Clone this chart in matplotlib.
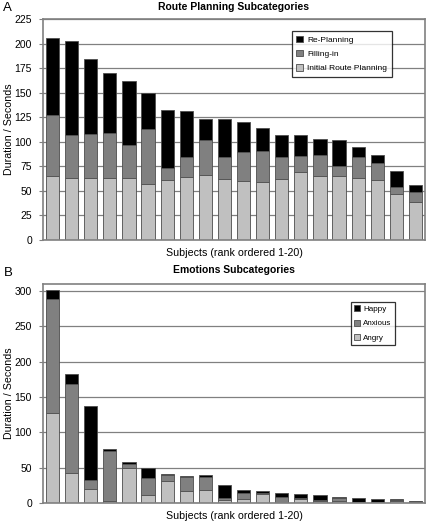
import numpy as np
import matplotlib
matplotlib.use('Agg')
import matplotlib.pyplot as plt

plt.rcParams['font.family'] = ['Liberation Sans', 'DejaVu Sans']

subjects = np.arange(1, 21)

# Panel A - route planning (seconds)
initial_route = [65, 63, 63, 63, 63, 57, 61, 64, 66, 62, 60, 59, 62, 69, 65, 65, 63, 61, 47, 39]
filling_in = [62, 44, 45, 46, 34, 56, 12, 21, 36, 23, 30, 32, 23, 17, 22, 10, 22, 17, 7, 10]
re_planning = [79, 96, 76, 61, 65, 37, 59, 46, 21, 38, 30, 23, 22, 21, 16, 27, 10, 9, 16, 7]

# Panel B - emotions (seconds)
angry = [128, 42, 20, 3, 49, 12, 31, 16.5, 18, 3.8, 5.7, 12.3, 0, 6, 3, 3, 0.6, 0.5, 3, 2]
anxious = [161.5, 127, 12.5, 70.5, 6, 23.5, 8.5, 21, 18.8, 2.8, 8, 2.3, 8, 0.6, 1.5, 3.5, 1, 0.7, 1, 1]
happy = [12.5, 14, 105, 3.5, 3.5, 14, 1.5, 0.3, 2.8, 18.4, 5.2, 2.4, 6, 6.4, 6.3, 1.5, 5, 4, 1.2, 0]

c_black = '#000000'
c_dark = '#808080'
c_light = '#c0c0c0'
edge = '#4d4d4d'

fig = plt.figure(figsize=(4.27, 5.22), dpi=100)
ax1 = fig.add_axes([0.1007, 0.5402, 0.8946, 0.4234])
ax2 = fig.add_axes([0.1007, 0.0364, 0.8946, 0.4195])


def style(ax, ymax, step):
    ax.set_xlim(0.5, 20.5)
    ax.set_ylim(0, ymax)
    ax.set_yticks(np.arange(0, ymax + 0.1, step))
    ax.set_xticks([])
    ax.yaxis.grid(True, color='#808080', linewidth=0.9)
    ax.set_axisbelow(True)
    for s in ax.spines.values():
        s.set_color('#808080')
        s.set_linewidth(1.2)
    ax.tick_params(axis='y', labelsize=7.5, length=3, color='#808080', pad=5)
    ax.set_ylabel('Duration / Seconds', fontsize=7.7)
    ax.yaxis.set_label_coords(-0.077, 0.5)
    ax.set_xlabel('Subjects (rank ordered 1-20)', fontsize=7.7, labelpad=6)


w = 0.69
kw = dict(width=w, edgecolor=edge, linewidth=0.6)

b1 = np.array(initial_route)
b2 = b1 + np.array(filling_in)
ax1.bar(subjects, re_planning, bottom=b2, color=c_black, label='Re-Planning', **kw)
ax1.bar(subjects, filling_in, bottom=b1, color=c_dark, label='Filling-in', **kw)
ax1.bar(subjects, initial_route, color=c_light, label='Initial Route Planning', **kw)
style(ax1, 225, 25)
ax1.set_title('Route Planning Subcategories', fontsize=7.5, fontweight='bold', pad=6.5)
leg = ax1.legend(loc='upper right', bbox_to_anchor=(0.924, 0.964), fontsize=6,
                 frameon=True, fancybox=False, edgecolor='black', handlelength=0.8,
                 handleheight=0.8, borderpad=0.55, labelspacing=0.75, handletextpad=0.5)
leg.get_frame().set_linewidth(0.9)

e1 = np.array(angry)
e2 = e1 + np.array(anxious)
ax2.bar(subjects, happy, bottom=e2, color=c_black, label='Happy', **kw)
ax2.bar(subjects, anxious, bottom=e1, color=c_dark, label='Anxious', **kw)
ax2.bar(subjects, angry, color=c_light, label='Angry', **kw)
style(ax2, 310, 50)
ax2.set_title('Emotions Subcategories', fontsize=7.5, fontweight='bold', pad=8)
leg2 = ax2.legend(loc='upper right', bbox_to_anchor=(0.932, 0.936), fontsize=5.8,
                  frameon=True, fancybox=False, edgecolor='black', handlelength=0.8,
                  handleheight=0.8, borderpad=0.4, labelspacing=0.8, handletextpad=0.4)
leg2.get_frame().set_linewidth(0.9)

fig.text(0.008, 0.996, 'A', fontsize=9.5, va='top')
fig.text(0.008, 0.4885, 'B', fontsize=9.5, va='top')

fig.savefig('out.png', dpi=100)
